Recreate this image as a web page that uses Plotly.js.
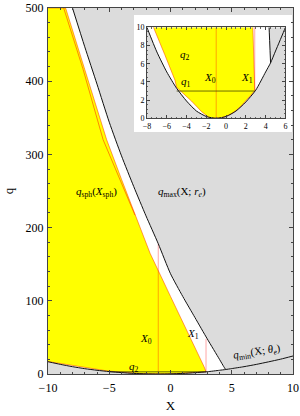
<!DOCTYPE html>
<html><head><meta charset="utf-8">
<script src="https://cdn.plot.ly/plotly-3.0.1.min.js"></script>
<style>html,body{margin:0;padding:0;background:#fff}#chart{width:300px;height:416px}</style>
</head><body><div id="chart"></div>
<script>
// q_min(X; theta_e) lower boundary
var qminX = [-10,-9,-8,-7,-6,-5,-4,-3,-2,-1,0,1,2,3,4,4.5,5,6,7,8,9,10];
var qminQ = [16.8,13.2,10,7.3,5.1,3.3,1.9,0.8,0.2,0,0.2,0.8,1.8,3.1,5.1,6.1,7.4,10,13.1,16.6,20.3,24.6];
// q_max(X; r_e) upper boundary
var qmaxX = [-8.0,-7,-6,-5,-4,-3,-2,-1,0,1,2,3,4,4.35,4.5];
var qmaxQ = [500,447,396,344,298,256,216,178,137,106,77,48,20,10,6.1];
// yellow region: right edge (q_sph) and lower edge (q2)
var sphEdgeX = [-8.56,-7,-5.21,-4,-2.9,-1.67,0,1.5,2.74,2.9];
var sphEdgeQ = [500,416,320,266,217,165,106,54,10,3.05];
var q2X = [2.9,2.5,2,1.5,1,0.5,0,-0.5,-1,-1.64,-2.47,-3.5,-5.0,-5.17,-6.2,-7.36,-8.5,-10];
var q2Q = [3.05,2.55,1.9,1.33,0.87,0.48,0.22,0.07,0.02,0.02,0.73,1.9,3.4,4.2,7.0,10,13,17];
// red q_sph(X_sph) curve (upper part, inside yellow)
var sphLineX = [-8.72,-7.15,-5.5,-4.15,-2.9];
var sphLineQ = [500,417,320,266,217];
// marker lines X0, X1, q1
var x0LineX = [-1,-1],   x0LineQ = [0,178];
var x1LineX = [2.9,2.9], x1LineQ = [3.05,48];
var q1LineX = [-5.0,2.9], q1LineQ = [3,3];
// plot frame
var xMin = -10, xMax = 10, qTop = 500;

var SERIF = 'Liberation Serif, Times New Roman, serif';
var GRAY = '#dcdcdc';

// allowed (white) region between qmin and qmax
var iMeet = qminX.indexOf(4.5);
var allowX = qminX.slice(0, iMeet + 1).concat(qmaxX.slice().reverse(), [xMin]);
var allowQ = qminQ.slice(0, iMeet + 1).concat(qmaxQ.slice().reverse(), [qTop]);
// yellow region
var yelX = [xMin].concat(sphEdgeX, q2X.slice(1));
var yelQ = [qTop].concat(sphEdgeQ, q2Q.slice(1));

function build(xa, ya) {
  return [
    {x: allowX, y: allowQ, fill: 'toself', fillcolor: '#ffffff', mode: 'lines', line: {width: 0}, xaxis: xa, yaxis: ya, hoverinfo: 'skip'},
    {x: yelX, y: yelQ, fill: 'toself', fillcolor: '#ffff00', mode: 'lines', line: {width: 1, color: 'rgba(255,70,0,0.55)'}, xaxis: xa, yaxis: ya, hoverinfo: 'skip'},
    {x: sphLineX, y: sphLineQ, mode: 'lines', line: {width: 1, color: 'rgba(255,40,0,0.55)'}, xaxis: xa, yaxis: ya},
    {x: x0LineX, y: x0LineQ, mode: 'lines', line: {width: 1, color: 'rgba(255,0,0,0.35)'}, xaxis: xa, yaxis: ya},
    {x: x1LineX, y: x1LineQ, mode: 'lines', line: {width: 1, color: 'rgba(255,0,0,0.35)'}, xaxis: xa, yaxis: ya},
    {x: q1LineX, y: q1LineQ, mode: 'lines', line: {width: 1, color: 'rgba(60,60,0,0.75)'}, xaxis: xa, yaxis: ya},
    {x: qminX, y: qminQ, mode: 'lines', line: {width: 1, color: '#111', shape: 'spline', smoothing: 0.6}, xaxis: xa, yaxis: ya},
    {x: qmaxX, y: qmaxQ, mode: 'lines', line: {width: 1, color: '#111', shape: 'spline', smoothing: 0.6}, xaxis: xa, yaxis: ya}
  ];
}
var data = build('x', 'y').concat(build('x2', 'y2'));

function ax(o) {
  return Object.assign({
    showgrid: false, zeroline: false, showline: true, linecolor: '#444', linewidth: 1,
    mirror: 'allticks', ticks: 'inside', tickcolor: '#444', ticklen: 4, tickwidth: 1,
    fixedrange: true
  }, o);
}
function ann(x, y, t, xr, yr, extra) {
  return Object.assign({x: x, y: y, xref: xr, yref: yr, text: t, showarrow: false,
    font: {family: SERIF, size: 11, color: '#000'}}, extra || {});
}

var layout = {
  width: 300, height: 416,
  margin: {l: 48, r: 7, t: 8, b: 42},
  paper_bgcolor: '#ffffff', plot_bgcolor: GRAY, showlegend: false,
  font: {family: SERIF, color: '#000'},
  xaxis: ax({range: [xMin, xMax], domain: [0, 1], anchor: 'y', tickmode: 'linear', tick0: 0, dtick: 5,
    ticklabelstandoff: 3,
    tickfont: {family: SERIF, size: 12}, minor: {dtick: 1, ticklen: 2, ticks: 'inside', tickcolor: '#444'},
    title: {text: 'X', font: {family: SERIF, size: 13}, standoff: 6}}),
  yaxis: ax({range: [0, qTop], domain: [0, 1], anchor: 'x', tickmode: 'linear', tick0: 0, dtick: 100,
    ticklabelstandoff: 1,
    tickfont: {family: SERIF, size: 12}, minor: {dtick: 20, ticklen: 2, ticks: 'inside', tickcolor: '#444'},
    title: {text: 'q', font: {family: SERIF, size: 13}, standoff: 9}}),
  xaxis2: ax({range: [-8, 6], domain: [0.404, 0.969], anchor: 'y2', tickmode: 'linear', tick0: 0, dtick: 2,
    ticklen: 3, tickfont: {family: SERIF, size: 8}, minor: {dtick: 0.5, ticklen: 1.5, ticks: 'inside', tickcolor: '#666'}}),
  yaxis2: ax({range: [0, 10], domain: [0.6986, 0.947], anchor: 'x2', tickmode: 'linear', tick0: 0, dtick: 2,
    ticklen: 3, tickfont: {family: SERIF, size: 8}, minor: {dtick: 0.5, ticklen: 1.5, ticks: 'inside', tickcolor: '#666'}}),
  shapes: [
    {type: 'rect', xref: 'paper', yref: 'paper', x0: 0.351, x1: 0.996, y0: 0.661, y1: 0.981,
     fillcolor: '#ffffff', line: {width: 0}, layer: 'below'}
  ],
  annotations: [
    ann(-6.03, 249, '<i>q</i><sub>sph</sub>(<i>X</i><sub>sph</sub>)', 'x', 'y'),
    ann(0.91, 249, '<i>q</i><sub>max</sub>(X; <i>r</i><sub><i>e</i></sub>)', 'x', 'y'),
    ann(-2.0, 48, '<i>X</i><sub>0</sub>', 'x', 'y'),
    ann(1.86, 54, '<i>X</i><sub>1</sub>', 'x', 'y'),
    ann(-3.0, 10, '<i>q</i><sub>2</sub>', 'x', 'y'),
    ann(7.04, 30, '<i>q</i><sub>min</sub>(X; <i>θ</i><sub><i>e</i></sub>)', 'x', 'y', {textangle: -9}),
    ann(-4.16, 6.96, '<i>q</i><sub>2</sub>', 'x2', 'y2'),
    ann(-4.06, 4.0, '<i>q</i><sub>1</sub>', 'x2', 'y2'),
    ann(-1.64, 4.4, '<i>X</i><sub>0</sub>', 'x2', 'y2'),
    ann(2.07, 4.4, '<i>X</i><sub>1</sub>', 'x2', 'y2')
  ]
};

Plotly.newPlot('chart', data, layout, {displayModeBar: false, staticPlot: true});
</script>
</body></html>
